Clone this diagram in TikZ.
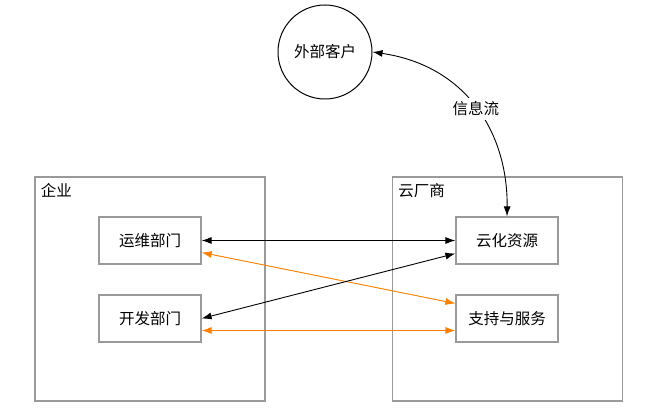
\documentclass[tikz,border=0pt]{standalone}
\usepackage{fontspec}
\setmainfont{Noto Sans CJK SC}
\usepackage{tikz}
\usetikzlibrary{arrows.meta}
\definecolor{flowOrange}{HTML}{FF8000}
\definecolor{boxGray}{HTML}{9A9A9A}
\tikzset{
    party/.style={draw=boxGray,line width=1.2pt,minimum width=230,minimum height=224},
    unit/.style={draw=boxGray,line width=1.2pt,fill=white,minimum width=102,minimum height=47},
    edge/.style={{Latex[length=10pt,width=7pt]}-{Latex[length=10pt,width=7pt]},line width=0.9pt}
    }

\begin{document}
\begin{tikzpicture}[x=1pt,y=-1pt,font=\fontsize{15.5}{18}\selectfont]
        \useasboundingbox (0,0) rectangle (647,419);

        % groups
        \node[party] (firm) at (150,289) {};
        \node[party] (cloud) at (507.5,289) {};
        \node[anchor=north west,xshift=3,yshift=-3] at (firm.north west) {企业};
        \node[anchor=north west,xshift=3,yshift=-3] at (cloud.north west) {云厂商};

        % vertices
        \node[circle,draw,line width=1pt,minimum size=94] (client) at (325,52) {外部客户};
        \node[unit] (ops) at (150,240.5) {运维部门};
        \node[unit] (dev) at (150,318.5) {开发部门};
        \node[unit] (res) at (507,240.5) {云化资源};
        \node[unit] (svc) at (507,318.5) {支持与服务};

        %edges
        \draw[edge] (client.east) .. controls (468,66) and (508,135) .. (res.north)
            node[pos=0.5,fill=white,inner sep=4pt] {信息流};
        \draw[edge] (ops.east) -- (res.west);
        \draw[edge, draw=flowOrange, fill=flowOrange] ([yshift=-12]ops.east) -- ([yshift=15]svc.west);
        \draw[edge] (dev.east) -- ([yshift=-13]res.west);
        \draw[edge, draw=flowOrange, fill=flowOrange] ([yshift=-12]dev.east) -- ([yshift=-12]svc.west);
    \end{tikzpicture}
\end{document}
